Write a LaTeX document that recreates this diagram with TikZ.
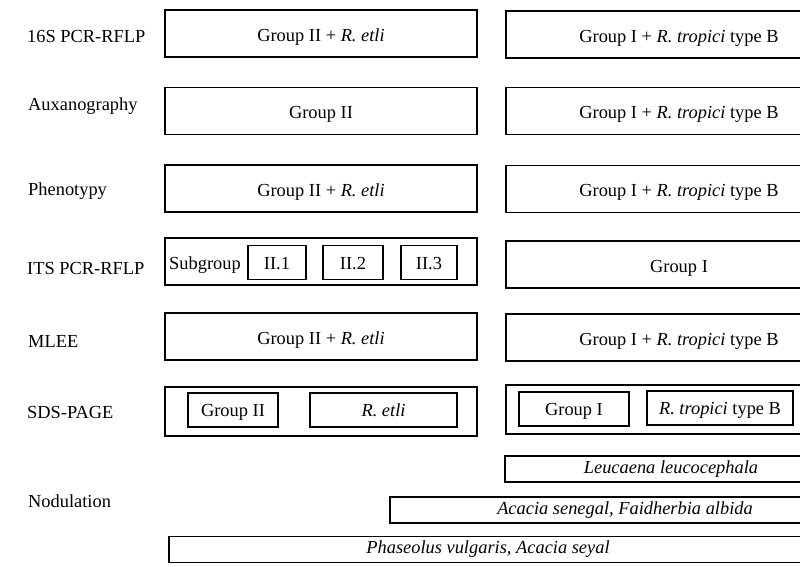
\documentclass[tikz,border=0pt]{standalone}
\usepackage{fontspec}
\setmainfont{Liberation Serif}

\begin{document}
\begin{tikzpicture}[x=1pt, y=-1pt,
		every node/.style={font=\fontsize{18.4}{22}\selectfont},
		box/.style={draw, line width=1.6pt, inner sep=0pt, minimum height=47pt, text height=15pt, text depth=0pt},
		leftbox/.style={box, minimum width=312pt},
		rightbox/.style={box, minimum width=346pt},
		inbox/.style={draw, line width=1.5pt, inner sep=0pt, minimum height=34pt, text height=13pt, text depth=0pt},
		hostbox/.style={draw, line width=1.6pt, inner sep=0pt, minimum height=26pt},
		method/.style={anchor=base west, inner sep=0pt}]
				
				\useasboundingbox (0,0) rectangle (800,566);
				\clip (0,0) rectangle (800,566);
				
				% methods
				\node [method] (m16s) at (27,42) {16S PCR-RFLP};
				\node [method] (maux) at (28,110) {Auxanography};
				\node [method] (mphe) at (28,195) {Phenotypy};
				\node [method] (mits) at (27,274) {ITS PCR-RFLP};
				\node [method] (mlee) at (28,347) {MLEE};
				\node [method] (msds) at (27,418) {SDS-PAGE};
				\node [method] (mnod) at (28,507) {Nodulation};
				
				% left column
				\node [leftbox] (pcrL) at (321,33.5) {Group II + \textit{R. etli}};
				\node [leftbox] (auxL) at (321,111) {Group II};
				\node [leftbox] (pheL) at (321,188.5) {Group II + \textit{R. etli}};
				\node [leftbox] (itsL) at (321,261.5) {};
				\node [leftbox] (leeL) at (321,336.5) {Group II + \textit{R. etli}};
				\node [leftbox, minimum height=49pt] (sdsL) at (321,411.5) {};
				
				% right column
				\node [rightbox] (pcrR) at (679,34.5) {Group I + \textit{R. tropici} type B};
				\node [rightbox] (auxR) at (679,111) {Group I + \textit{R. tropici} type B};
				\node [rightbox] (pheR) at (679,189) {Group I + \textit{R. tropici} type B};
				\node [rightbox] (itsR) at (679,264.5) {Group I};
				\node [rightbox] (leeR) at (679,337.5) {Group I + \textit{R. tropici} type B};
				\node [rightbox, minimum height=49pt] (sdsR) at (679,409.5) {};
				
				% subgroups
				\node [method] (subg) at (169,269) {Subgroup};
				\node [inbox, minimum width=58pt] (sub1) at (277,262.5) {II.1};
				\node [inbox, minimum width=60pt] (sub2) at (353,262.5) {II.2};
				\node [inbox, minimum width=56pt] (sub3) at (429,262.5) {II.3};
				
				\node [inbox, minimum width=90pt] (sdsG2) at (233,410) {Group II};
				\node [inbox, minimum width=147pt] (sdsRe) at (383.5,410) {\textit{R. etli}};
				\node [inbox, minimum width=110pt] (sdsG1) at (574,409) {Group I};
				\node [inbox, minimum width=146pt] (sdsRt) at (720,408) {\textit{R. tropici} type B};
				
				% host plants
				\node [hostbox, minimum width=332pt] (leuc) at (671,469) {\textit{Leucaena leucocephala}};
				\node [hostbox, minimum width=470pt] (acac) at (625,510) {\textit{Acacia senegal, Faidherbia albida}};
				\node [hostbox, minimum width=638pt] (phas) at (488,549.5) {\textit{Phaseolus vulgaris, Acacia seyal}};
		\end{tikzpicture}
\end{document}
